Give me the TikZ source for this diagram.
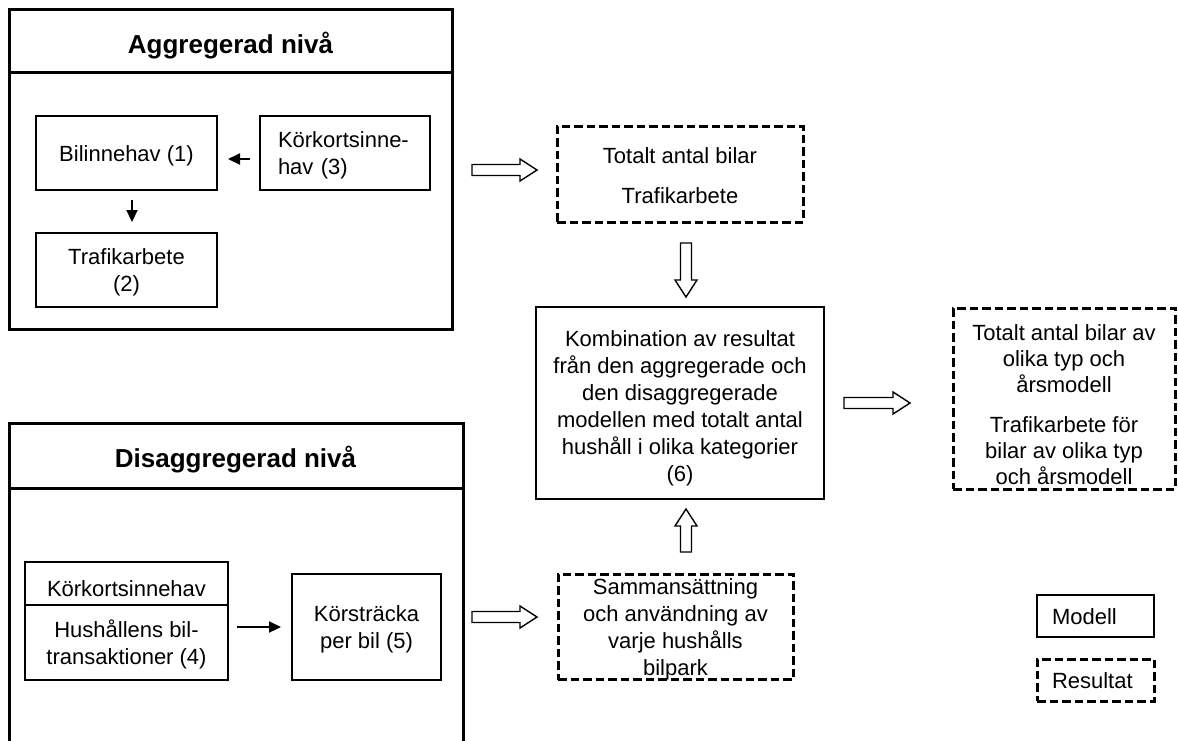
\documentclass[tikz,border=0pt]{standalone}
\usepackage{fontspec}
\setmainfont{Liberation Sans}
\usetikzlibrary{arrows.meta,calc}
\newcommand\topstr[1]{\rule{0pt}{#1}}
\newcommand\botstr[1]{\rule[-#1]{0pt}{#1}}
\lineskiplimit=-50pt
\begin{document}
\begin{tikzpicture}[x=1pt,y=-1pt,
  every node/.style={inner sep=0pt, outer sep=0pt},
  txt/.style={font=\fontsize{22}{27}\selectfont, align=center},
  outerbox/.style={draw, line width=3pt, rectangle},
  model/.style={draw, line width=1.4pt, rectangle, txt},
  result/.style={draw, line width=3pt, dash pattern=on 8.5pt off 4pt, rectangle, txt},
  title/.style={font=\fontsize{26}{31}\selectfont\bfseries},
  arr/.style={line width=2.2pt, -{Triangle[length=12pt,width=11pt]}},
  hollow/.style={line width=1.4pt, fill=white, line join=miter},
  pics/harrow/.style={code={\draw[hollow] (0,-5.5) -- (#1-17,-5.5) -- (#1-17,-11) -- (#1,0) -- (#1-17,11) -- (#1-17,5.5) -- (0,5.5) -- cycle;}}
]
\path[use as bounding box] (0,0) rectangle (1178,740);
\clip (0,0) rectangle (1178,740);

% Aggregated level
\node[outerbox, minimum width=443pt, minimum height=320pt] (agg) at (230.5,169) {};
\draw[line width=3pt] (9,72) -- (452,72);
\node[title, anchor=base] (aggt) at (230.5,53) {Aggregerad nivå};

\node[model, minimum width=181pt, minimum height=74pt] (bil) at (126.5,153) {\topstr{22pt}Bilinnehav (1)\botstr{6pt}};
\node[model, minimum width=170pt, minimum height=74pt, text width=134pt, inner xsep=18pt, align=left] (kk3) at (345,153) {\topstr{22pt}Körkortsinne-\\hav (3)\botstr{6pt}};
\node[model, minimum width=181pt, minimum height=74pt] (tra) at (126.5,270) {\topstr{22pt}Trafikarbete\\(2)\botstr{6pt}};

\draw[arr] ($(kk3.west)+(-10,6)$) -- ($(bil.east)+(11,6)$);
\draw[arr] ($(bil.south)+(5.5,10)$) -- ($(tra.north)+(5.5,-11)$);

% Disaggregated level
\node[outerbox, minimum width=454pt, minimum height=377pt] (dis) at (236,611.5) {};
\draw[line width=3pt] (9,488) -- (463,488);
\node[title, anchor=base] (dist) at (235.5,467) {Disaggregerad nivå};

\node[model, minimum width=203pt, minimum height=43pt] (kk4) at (126.5,583.5) {\topstr{30pt}Körkortsinnehav\botstr{5pt}};
\node[model, minimum width=203pt, minimum height=75pt] (hus) at (126.5,642.5) {\topstr{22pt}Hushållens bil-\\transaktioner (4)\botstr{6pt}};
\node[model, minimum width=149pt, minimum height=106pt] (ks5) at (366.5,627) {\topstr{22pt}Körsträcka\\per bil (5)\botstr{6pt}};
\draw[arr] ($(hus.east |- ks5.west)+(9,0)$) -- ($(ks5.west)+(-11,0)$);

% Middle column
\node[result, minimum width=246pt, minimum height=96pt] (tot) at (680,174) {\topstr{24pt}Totalt antal bilar\\[13pt]Trafikarbete\botstr{6pt}};
\node[model, minimum width=288pt, minimum height=192pt] (komb) at (680,403) {\topstr{28pt}Kombination av resultat\\från den aggregerade och\\den disaggregerade\\modellen med totalt antal\\hushåll i olika kategorier\\(6)\botstr{6pt}};
\node[result, minimum width=235pt, minimum height=105pt] (samm) at (675.5,627) {\topstr{20pt}Sammansättning\\och användning av\\varje hushålls\\bilpark};

% Right column
\node[result, minimum width=222pt, minimum height=181pt, font=\fontsize{22}{26}\selectfont] (res) at (1064,398.5) {\topstr{31pt}Totalt antal bilar av\\olika typ och\\årsmodell\\[14pt]Trafikarbete för\\bilar av olika typ\\och årsmodell\botstr{4pt}};

% Legend
\node[model, minimum width=117pt, minimum height=42pt, text width=87pt, inner xsep=15pt, align=left] (mod) at (1095.5,616) {\topstr{22pt}Modell\botstr{6pt}};
\node[result, minimum width=117pt, minimum height=42pt, text width=87pt, inner xsep=15pt, align=left] (resl) at (1095.5,680) {\topstr{22pt}Resultat\botstr{6pt}};

% Hollow arrows
\pic at ($(agg.east)+(20,1)$) {harrow=65};
\pic[rotate=-90] at ($(tot.south)+(6,21)$) {harrow=54};
\pic at ($(komb.east)+(20,0)$) {harrow=66};
\pic[rotate=90] at ($(komb.south)+(6,53)$) {harrow=43};
\pic at ($(samm.west)+(-86,-10)$) {harrow=65};
\end{tikzpicture}
\end{document}
